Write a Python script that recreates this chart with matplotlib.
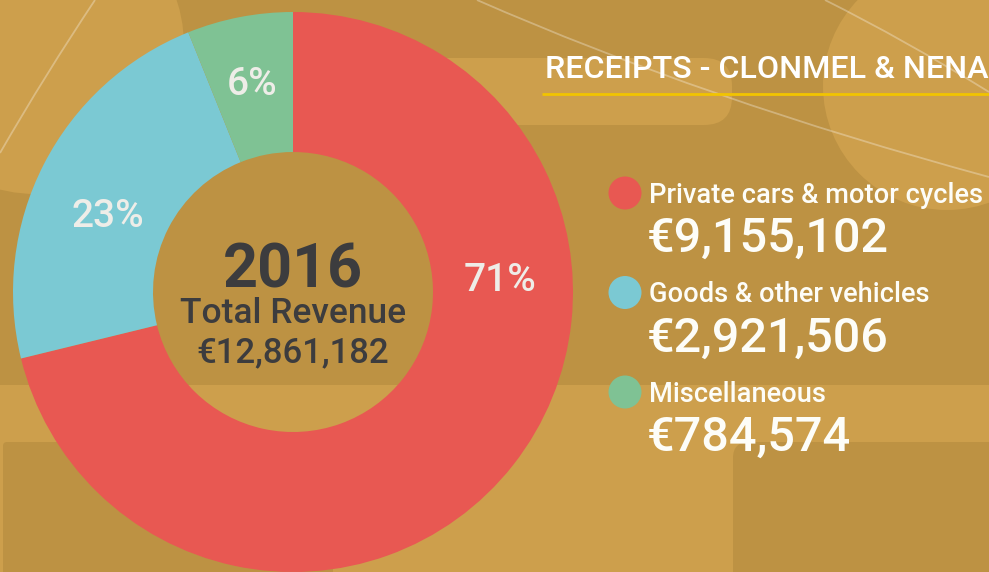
import matplotlib.pyplot as plt
from matplotlib.patches import Circle, Rectangle, FancyBboxPatch, PathPatch
from matplotlib.path import Path
import numpy as np

plt.rcParams['font.family'] = ['Roboto', 'DejaVu Sans']

year = "2016"
categories = ["Private cars & motor cycles", "Goods & other vehicles", "Miscellaneous"]
receipts = [9155102, 2921506, 784574]
colors = ["#E85852", "#7BC9D3", "#7FC294"]

total = sum(receipts)
shares = [v / total for v in receipts]

DARK = "#BD9243"
LIGHT = "#CD9F4C"

fig = plt.figure(figsize=(9.89, 5.72), dpi=100)
fig.patch.set_facecolor(DARK)
ax = fig.add_axes([0, 0, 1, 1])
ax.set_facecolor(DARK)

# background decoration (pixel coordinates, y pointing down)
ax.add_patch(Circle((36, 46), 148, color=LIGHT, lw=0, zorder=0))
ax.add_patch(FancyBboxPatch((300, 58), 432, 67, boxstyle="round,pad=0,rounding_size=28",
                            color=LIGHT, lw=0, zorder=0))
ax.add_patch(Circle((947, 86), 124, color=LIGHT, lw=0, zorder=0))
ax.add_patch(Rectangle((0, 385), 989, 200, color=LIGHT, lw=0, zorder=0))
ax.add_patch(FancyBboxPatch((3, 442), 330, 160, boxstyle="round,pad=0,rounding_size=4",
                            color=DARK, lw=0, zorder=0))
ax.add_patch(FancyBboxPatch((733, 442), 300, 160, boxstyle="round,pad=0,rounding_size=16",
                            color=DARK, lw=0, zorder=0))

line_kw = dict(fill=False, edgecolor=(1, 1, 1, 0.3), lw=1.3, zorder=1)
ax.add_patch(PathPatch(Path([(95, 0), (45, 75), (0, 153)],
                            [Path.MOVETO, Path.CURVE3, Path.CURVE3]), **line_kw))
ax.add_patch(PathPatch(Path([(477, 0), (705, 100), (989, 177)],
                            [Path.MOVETO, Path.CURVE3, Path.CURVE3]), **line_kw))
ax.add_patch(PathPatch(Path([(825, 0), (905, 40), (989, 92)],
                            [Path.MOVETO, Path.CURVE3, Path.CURVE3]), **line_kw))

# donut
cx, cy, r_out, r_in = 293, 292, 280, 140
wedges, _ = ax.pie(shares, colors=colors, startangle=-90, counterclock=True,
                   radius=r_out, center=(cx, cy),
                   wedgeprops=dict(width=r_out - r_in, linewidth=0))
for w in wedges:
    w.set_zorder(2)

# percentage labels: angle (degrees, y axis points down) and distance from centre
label_angles = [-4, 203, 259]
label_radii = [208, 201, 215]
for s, ang, rl in zip(shares, label_angles, label_radii):
    tx = cx + rl * np.cos(np.radians(ang))
    ty = cy + rl * np.sin(np.radians(ang)) + 14
    ax.text(tx, ty, f"{s * 100:.0f}%", color="#EEEDE8", fontsize=28, fontweight="medium",
            ha="center", va="baseline", zorder=3)

# centre text
ax.text(cx, 287, year, color="#3C3C3E", fontsize=44, fontweight="bold",
        ha="center", va="baseline", zorder=3)
ax.text(cx, 323, "Total Revenue", color="#3C3C3E", fontsize=25.5, fontweight="medium",
        ha="center", va="baseline", zorder=3)
ax.text(cx, 362, f"€{total:,}", color="#3C3C3E", fontsize=25, fontweight="medium",
        ha="center", va="baseline", zorder=3)

# title and rule
ax.text(545, 78, "RECEIPTS - CLONMEL & NENA", color="white", fontsize=23.2,
        fontweight="medium", ha="left", va="baseline", zorder=3)
ax.plot([542, 989], [94, 94], color="#F2C400", lw=2, zorder=3, solid_capstyle="butt")

# legend entries
for i, (name, val, col) in enumerate(zip(categories, receipts, colors)):
    y0 = 193 + i * 99.5
    ax.add_patch(Circle((625, y0), 16.5, color=col, lw=0, zorder=3))
    ax.text(649, y0 + 10, name, color="#FDFDF8", fontsize=19.6, fontweight="medium",
            ha="left", va="baseline", zorder=3)
    ax.text(647, y0 + 59, f"€{val:,}", color="#FDFDF8", fontsize=35, fontweight="medium",
            ha="left", va="baseline", zorder=3)

ax.set_xlim(0, 989)
ax.set_ylim(572, 0)
ax.set_aspect("auto")
ax.axis("off")

fig.savefig("out.png", dpi=100, facecolor=fig.get_facecolor())
